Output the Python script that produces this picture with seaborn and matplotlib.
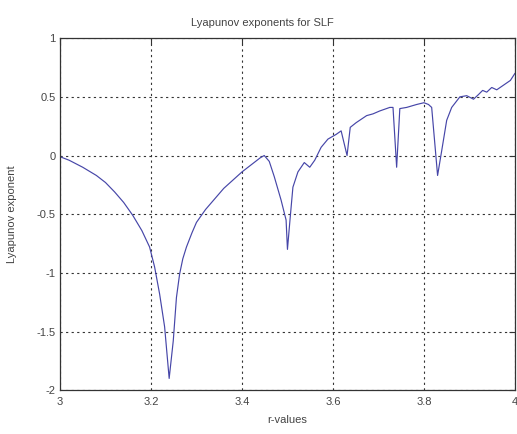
import seaborn as sns
import matplotlib.pyplot as plt
import pandas as pd

# values
r_values = [3.0, 3.02, 3.05, 3.08, 3.10, 3.12, 3.14, 3.16, 3.18, 3.197,
            3.208, 3.219, 3.23, 3.24, 3.249, 3.256, 3.263, 3.27, 3.278, 3.29,
            3.30, 3.32, 3.34, 3.36, 3.38, 3.40, 3.42, 3.44, 3.449,
            3.46, 3.471, 3.486, 3.497, 3.50, 3.506, 3.512, 3.523, 3.537, 3.549,
            3.56, 3.574, 3.589, 3.607, 3.618, 3.631, 3.638, 3.651, 3.674, 3.688,
            3.703, 3.725, 3.732, 3.74, 3.747, 3.762, 3.784, 3.80, 3.81, 3.817,
            3.83, 3.839, 3.85, 3.861, 3.879, 3.894, 3.909, 3.92, 3.929, 3.938,
            3.949, 3.96, 3.975, 3.99, 4.0]
lyap = [-0.01, -0.04, -0.10, -0.17, -0.23, -0.31, -0.40, -0.51, -0.64, -0.78,
        -0.95, -1.18, -1.46, -1.90, -1.58, -1.21, -1.01, -0.88, -0.78, -0.66,
        -0.57, -0.46, -0.37, -0.28, -0.21, -0.14, -0.08, -0.02, 0.0,
        -0.05, -0.18, -0.38, -0.55, -0.80, -0.53, -0.27, -0.14, -0.06, -0.10,
        -0.04, 0.07, 0.14, 0.18, 0.21, 0.0, 0.24, 0.28, 0.34, 0.355,
        0.38, 0.41, 0.41, -0.10, 0.40, 0.41, 0.435, 0.45, 0.435, 0.41,
        -0.17, 0.04, 0.30, 0.41, 0.50, 0.51, 0.48, 0.52, 0.555, 0.54,
        0.58, 0.56, 0.60, 0.64, 0.70]

x_ticks = [3, 3.2, 3.4, 3.6, 3.8, 4]
x_labels = ["3", "3.2", "3.4", "3.6", "3.8", "4"]
y_ticks = [-2, -1.5, -1, -0.5, 0, 0.5, 1]
y_labels = ["-2", "-1.5", "-1", "-0.5", "0", "0.5", "1"]

df = pd.DataFrame({"r": r_values, "lyap": lyap})

sns.set_style("white")
plt.rcParams['font.family'] = ['Liberation Sans', 'DejaVu Sans']

fig = plt.figure(figsize=(5.17, 4.34), dpi=100)
ax = fig.add_axes([0.116, 0.101, 0.880, 0.811])

sns.lineplot(x="r", y="lyap", data=df, sort=False, estimator=None,
             color="#4646a8", linewidth=0.85, ax=ax)

ax.set_xlim(3, 4)
ax.set_ylim(-2, 1)
ax.set_xticks(x_ticks)
ax.set_xticklabels(x_labels)
ax.set_yticks(y_ticks)
ax.set_yticklabels(y_labels)

ax.grid(True, color="#333333", linestyle=(0, (2, 3)), linewidth=0.8)
for s in ax.spines.values():
    s.set_color("#333333")
    s.set_linewidth(0.9)

ax.tick_params(direction="in", length=4, top=True, right=True,
               labelsize=8, colors="#333333", pad=4)
ax.tick_params(axis="x", labelcolor="#444444", pad=5)
ax.tick_params(axis="y", labelcolor="#444444", pad=3)

ax.set_title("Lyapunov exponents for SLF", fontsize=8, color="#444444",
             pad=9, x=0.444)
ax.set_xlabel("r-values", fontsize=8, color="#444444", labelpad=6)
ax.set_ylabel("Lyapunov exponent", fontsize=8, color="#444444", labelpad=-2)
ax.yaxis.set_label_coords(-0.095, 0.5)

plt.savefig("out.png", dpi=100)
